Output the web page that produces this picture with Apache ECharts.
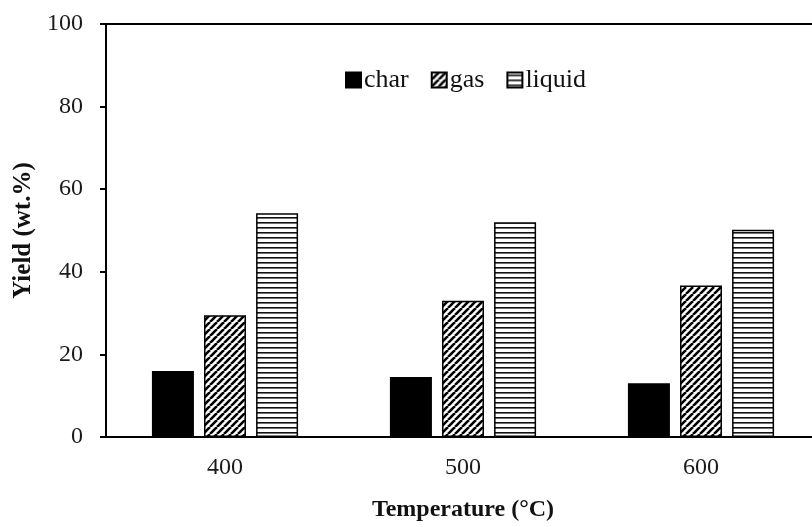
<!DOCTYPE html>
<html>
<head>
<meta charset="utf-8">
<script src="https://cdn.jsdelivr.net/npm/echarts@6/dist/echarts.min.js"></script>
<style>
  html, body { margin: 0; padding: 0; background: #fff; overflow: hidden; }
  /* plot runs slightly past the right edge of the picture, like the original */
  #main { width: 822px; height: 527px; }
</style>
</head>
<body>
<div id="main"></div>
<script>
// data
var temps = ['400', '500', '600'];
var charYield = [16.0, 14.5, 13.0];
var gasYield = [29.5, 33.0, 36.7];
var liquidYield = [54.2, 52.0, 50.2];
var seriesNames = ['char', 'gas', 'liquid'];

var FONT = '"Liberation Serif", "DejaVu Serif", serif';

// small canvas tiles for the hatch fills
function makeTile(kind) {
  var c = document.createElement('canvas');
  var ctx = c.getContext('2d');
  if (kind === 'diag') {
    c.width = 7; c.height = 7;
    ctx.fillStyle = '#fff';
    ctx.fillRect(0, 0, 7, 7);
    ctx.strokeStyle = '#000';
    ctx.lineWidth = 2.6;
    [-7, 0, 7].forEach(function (k) {
      ctx.beginPath();
      ctx.moveTo(k, 7);
      ctx.lineTo(k + 7, 0);
      ctx.stroke();
    });
  } else {
    c.width = 4; c.height = 5;
    ctx.fillStyle = '#fff';
    ctx.fillRect(0, 0, 4, 5);
    ctx.fillStyle = '#111';
    ctx.fillRect(0, 2, 4, 1.6);
  }
  return c;
}

var diagFill = { image: makeTile('diag'), repeat: 'repeat' };
var lineFill = { image: makeTile('lines'), repeat: 'repeat' };

var chart = echarts.init(document.getElementById('main'));

function bar(name, data, fill) {
  return {
    name: name,
    type: 'bar',
    data: data,
    barWidth: 42,
    barGap: '24%',
    itemStyle: { color: fill, borderColor: '#000', borderWidth: 1.5 }
  };
}

var option = {
  backgroundColor: '#fff',
  animation: false,
  grid: {
    left: 106, top: 24, right: 2, bottom: 83,
    show: true, borderColor: '#000', borderWidth: 2, backgroundColor: 'transparent'
  },
  legend: {
    top: 62,
    left: 340,
    itemWidth: 15,
    itemHeight: 15,
    itemGap: 22,
    icon: 'rect',
    textStyle: { fontFamily: FONT, fontSize: 26, color: '#111', padding: [0, 0, 0, -2] },
    data: seriesNames
  },
  xAxis: {
    type: 'category',
    data: temps,
    name: 'Temperature (°C)',
    nameLocation: 'middle',
    nameGap: 61,
    nameTextStyle: { fontFamily: FONT, fontSize: 24, fontWeight: 'bold', color: '#111' },
    axisLine: { lineStyle: { color: '#000', width: 2 } },
    axisTick: { show: false },
    axisLabel: { fontFamily: FONT, fontSize: 24, color: '#1a1a1a', margin: 19 }
  },
  yAxis: {
    type: 'value',
    min: 0,
    max: 100,
    interval: 20,
    name: 'Yield (wt.%)',
    nameLocation: 'middle',
    nameGap: 66,
    nameTextStyle: { fontFamily: FONT, fontSize: 25, fontWeight: 'bold', color: '#111' },
    axisLine: { show: true, lineStyle: { color: '#000', width: 2 } },
    axisTick: { show: true, length: 6, lineStyle: { color: '#000', width: 2 } },
    axisLabel: { fontFamily: FONT, fontSize: 24, color: '#1a1a1a', margin: 23 },
    splitLine: { show: false }
  },
  series: [
    bar('char', charYield, '#000'),
    bar('gas', gasYield, diagFill),
    bar('liquid', liquidYield, lineFill)
  ]
};

chart.setOption(option);
</script>
</body>
</html>
